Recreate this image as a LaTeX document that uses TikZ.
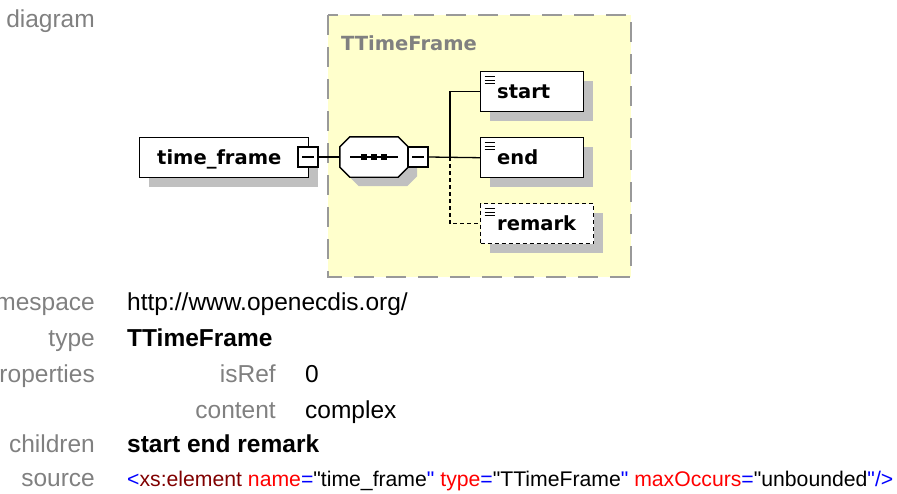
\documentclass[tikz,border=0pt]{standalone}
\usepackage{fontspec}
\setmainfont{Liberation Sans}
\newfontfamily\diagfont{DejaVu Sans}
\usetikzlibrary{shadows}

\definecolor{frameyellow}{HTML}{FFFFCC}
\definecolor{framegray}{HTML}{999999}
\definecolor{shadowgray}{HTML}{C0C0C0}
\definecolor{labelgray}{HTML}{808080}
\definecolor{srcblue}{HTML}{0000FF}
\definecolor{srcdark}{HTML}{800000}
\definecolor{srcred}{HTML}{FF0000}
\newcommand{\sq}{\XeTeXglyph\XeTeXcharglyph"22\relax}

\begin{document}
\begin{tikzpicture}[x=1pt,y=-1pt,
  boxshadow/.style={drop shadow={shadow xshift=9pt, shadow yshift=-9pt, fill=shadowgray, opacity=1}},
  elbox/.style={draw, fill=white, line width=1.4pt, rectangle, anchor=north west,
    minimum height=40pt, inner sep=0pt, boxshadow,
    path picture={
      \foreach \dy in {5,8.5,12}
        \draw[solid, line width=1.3pt] ([shift={(4pt,-\dy pt)}]path picture bounding box.north west) -- ++(10pt,0pt);
    }},
  topbox/.style={draw, fill=white, line width=1.4pt, rectangle, anchor=north west,
    minimum height=40pt, inner sep=0pt, boxshadow},
  collapse/.style={draw, fill=white, line width=1.2pt, rectangle, minimum size=20pt, inner sep=0pt,
    path picture={\draw[line width=1.1pt] ([xshift=4pt]path picture bounding box.west) -- ([xshift=-4pt]path picture bounding box.east);}},
  diagtext/.style={anchor=base west, inner sep=0pt, font=\diagfont\bfseries\fontsize{19.5}{23}\selectfont},
  conn/.style={line width=1.3pt},
  lbl/.style={anchor=base east, inner sep=0pt, text=labelgray, font=\fontsize{24.5}{29}\selectfont},
  val/.style={anchor=base west, inner sep=0pt, text=black, font=\fontsize{24.5}{29}\selectfont},
  bval/.style={anchor=base west, inner sep=0pt, text=black, font=\bfseries\fontsize{24.5}{29}\selectfont},
  srcval/.style={anchor=base west, inner sep=0pt, text=black, font=\fontsize{21.2}{25}\selectfont}
]
\useasboundingbox (0,0) rectangle (897,493);

% type frame
\fill[frameyellow] (328,15) rectangle (631,277);
\draw[framegray, line width=1.5pt, dash pattern=on 20pt off 12pt] (328,15) rectangle (631,277);
\node[anchor=base west, inner sep=0pt, text=labelgray, font=\diagfont\bfseries\fontsize{19.5}{23}\selectfont] (ttf) at (341,50) {TTimeFrame};

% element time_frame
\node[topbox, minimum width=169pt] (tf) at (139,137) {};
\node[diagtext] (ttext) at (157,164) {time\_frame};
\node[collapse] (c1) at (308,157) {};

% sequence compositor
\node[rectangle, minimum width=68pt, minimum height=40pt, inner sep=0pt] (seq) at (374,157) {};
\draw[fill=white, line width=1.4pt, boxshadow]
  ([xshift=10pt]seq.north west) -- ([xshift=-10pt]seq.north east) -- ([yshift=-10pt]seq.north east)
  -- ([yshift=10pt]seq.south east) -- ([xshift=-10pt]seq.south east) -- ([xshift=10pt]seq.south west)
  -- ([yshift=10pt]seq.south west) -- ([yshift=-10pt]seq.north west) -- cycle;
\draw[line width=1.2pt] ([xshift=-24pt]seq.center) -- ([xshift=24pt]seq.center);
\foreach \dx in {-10,0,10}
  \fill ([xshift=\dx pt]seq.center) +(-2.6pt,-2.6pt) rectangle +(2.6pt,2.6pt);
\node[collapse] (c2) at (418,157) {};

% child elements
\node[elbox, minimum width=103pt] (start) at (480,71) {};
\node[diagtext] (tstart) at (497,98) {start};
\node[elbox, minimum width=103pt] (end) at (480,137) {};
\node[diagtext] (tend) at (497,164) {end};
\node[elbox, minimum width=113pt, dash pattern=on 4pt off 3pt] (remark) at (480,203) {};
\node[diagtext] (tremark) at (497,230) {remark};

% connectors
\coordinate (j) at (450,157);
\draw[conn] (c1.east) -- (seq.west);
\draw[conn] (c2.east) -- (end.west);
\draw[conn] (j) |- (start.west);
\draw[conn, dash pattern=on 4pt off 3pt] (j) |- (remark.west);

% property table
\node[lbl] (ldiag) at (95,27) {diagram};
\node[lbl] (lns) at (95,310) {namespace};
\node[val] (vns) at (127,310) {http://www.openecdis.org/};
\node[lbl] (ltype) at (95,346) {type};
\node[bval] (vtype) at (127,346) {TTimeFrame};
\node[lbl] (lprop) at (95,382) {properties};
\node[lbl] (lisref) at (276,382) {isRef};
\node[val] (visref) at (305,382) {0};
\node[lbl] (lcontent) at (276,418) {content};
\node[val] (vcontent) at (305,418) {complex};
\node[lbl] (lchildren) at (95,452) {children};
\node[bval] (vchildren) at (127,452) {start end remark};
\node[lbl] (lsource) at (95,486) {source};
\node[srcval] (vsource) at (127,486) {{\color{srcblue}<}{\color{srcdark}xs:element} {\color{srcred}name}{\color{srcblue}=}\sq time\_frame{\color{srcblue}\sq} {\color{srcred}type}{\color{srcblue}=}\sq TTimeFrame{\color{srcblue}\sq} {\color{srcred}maxOccurs}{\color{srcblue}=}\sq unbounded{\color{srcblue}\sq/>}};
\end{tikzpicture}
\end{document}
